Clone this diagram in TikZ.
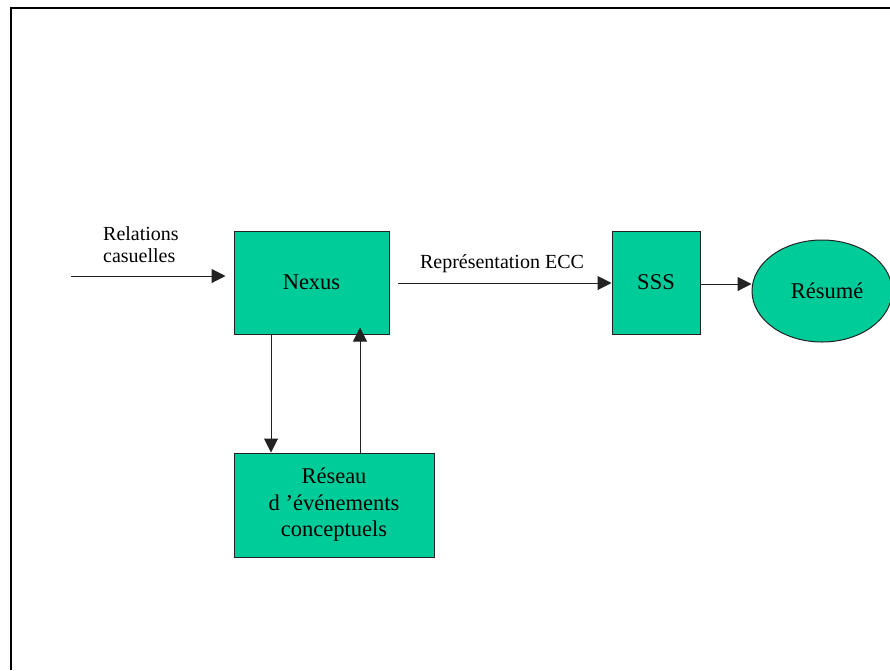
\documentclass[tikz,border=0pt]{standalone}
\usepackage{fontspec}
\setmainfont{Liberation Serif}
\usetikzlibrary{arrows.meta,shapes.geometric}
\definecolor{boxgreen}{HTML}{00CC99}
\definecolor{linegrey}{HTML}{222222}
\tikzset{
  block/.style={draw=linegrey, line width=1pt, fill=boxgreen, inner sep=0pt,
    font=\fontsize{22.5}{26.5}\selectfont, align=center},
  blob/.style={ellipse, draw=linegrey, line width=1pt, fill=boxgreen, inner sep=0pt,
    font=\fontsize{22.5}{26.5}\selectfont},
  flow/.style={draw=linegrey, line width=1pt, -{Triangle[length=14pt,width=14pt]}},
  caption/.style={font=\fontsize{20}{22.5}\selectfont, inner sep=0pt},
  frame/.style={line width=2pt, black}
}
\begin{document}
\begin{tikzpicture}[x=1pt,y=-1pt]
  \useasboundingbox (0,0) rectangle (890,670);
  % page frame (top and left edges)
  \coordinate (ftl) at (11,7.5);
  \coordinate (ftr) at (890,7.5);
  \coordinate (fbl) at (11,670);
  \draw[frame] (ftr) -- (ftl) -- (fbl);

  % blocks
  \node[block, minimum width=155pt, minimum height=103pt] (nexus) at (311.5,282.5) {Nexus};
  \node[block, minimum width=88pt, minimum height=103pt] (sss) at (656,282.5) {SSS};
  \node[blob, minimum width=140pt, minimum height=102pt] (resume) at (822,291) {\hspace{10pt}Résumé};
  \node[block, minimum width=200pt, minimum height=104pt] (reseau) at (334,505)
    {Réseau\\d ’événements\\conceptuels};

  % incoming relations
  \coordinate (src) at (71,276);
  \draw[flow, shorten >=8pt] (src) -- (src -| nexus.west);
  \node[caption, anchor=north west, align=left] (rel) at (103,226) {Relations\\casuelles};

  % main chain
  \draw[flow, shorten <=8pt] (nexus.east |- 0,283) -- (sss.west |- 0,283);
  \node[caption, anchor=base] (ecc) at (502,268.3) {Représentation ECC};
  \draw[flow] (sss.east |- 0,284) -- (resume.west |- 0,284);

  % loop between Nexus and the event network
  \draw[flow] (nexus.south -| 271,0) -- (reseau.north -| 271,0);
  \draw[flow, shorten >=-7pt] (reseau.north -| 360,0) -- (nexus.south -| 360,0);
\end{tikzpicture}
\end{document}
